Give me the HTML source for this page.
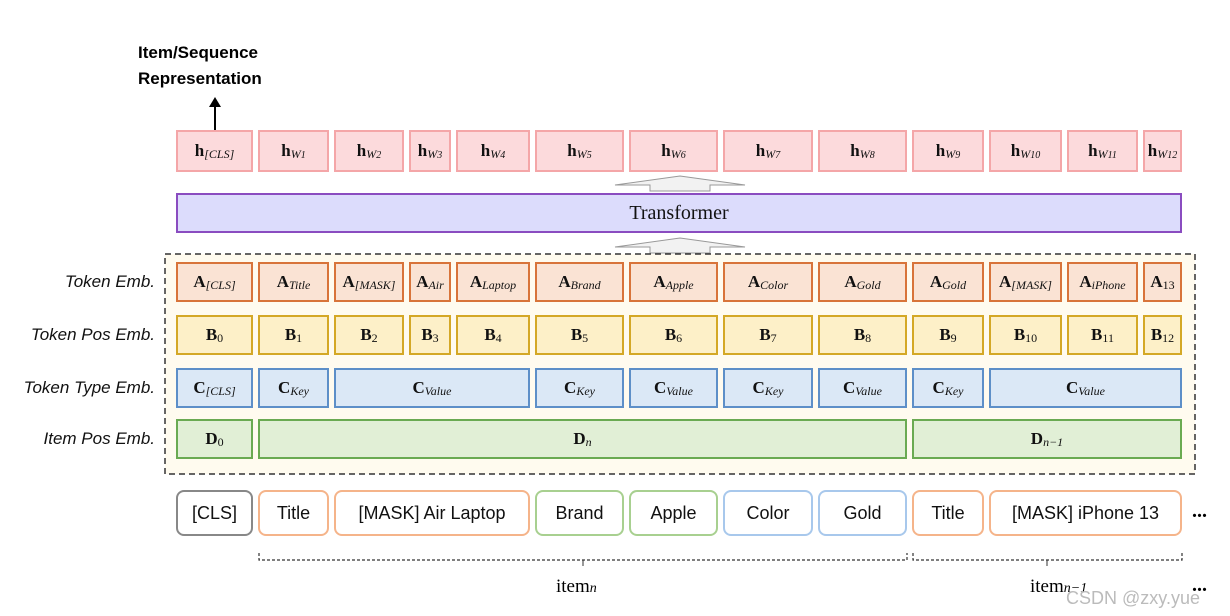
<!DOCTYPE html><html><head><style>
body{margin:0;width:1230px;height:616px;background:#fff;position:relative;overflow:hidden;font-family:"Liberation Serif",serif}
.b{position:absolute;box-sizing:border-box;display:flex;align-items:center;justify-content:center;font-size:17px;color:#111;white-space:nowrap}
.b b{font-weight:bold}
.b sub{font-style:italic;font-size:12px;position:relative;top:3px;vertical-align:baseline}
.h{background:#fcdadc;border:2px solid #f4a6a8;top:130px;height:42px}
.A{background:#fae3d4;border:2px solid #d8743a;top:262px;height:40px}
.B{background:#fdf0c8;border:2px solid #d4a826;top:315px;height:40px}
.C{background:#dbe8f6;border:2px solid #5d8fc8;top:368px;height:40px}
.D{background:#e1efd6;border:2px solid #6aaa52;top:419px;height:40px}
.i{top:490px;height:46px;border-radius:8px;background:#fff;border:2px solid;font-family:"Liberation Sans",sans-serif;font-size:18px}
.lab{position:absolute;left:0;width:155px;text-align:right;font-family:"Liberation Sans",sans-serif;font-style:italic;font-size:17px;color:#111}
</style></head><body>
<div style="position:absolute;left:138px;top:40px;font-family:'Liberation Sans',sans-serif;font-weight:bold;font-size:17px;line-height:26px">Item/Sequence<br>Representation</div>
<div style="position:absolute;left:214px;top:104px;width:2px;height:26px;background:#000"></div>
<div style="position:absolute;left:209px;top:97px;border-left:6px solid transparent;border-right:6px solid transparent;border-bottom:10px solid #000"></div>

<div class="b h" style="left:176px;width:77px"><b>h</b><sub>[CLS]</sub></div>
<div class="b h" style="left:258px;width:71px"><b>h</b><sub>W<small>1</small></sub></div>
<div class="b h" style="left:334px;width:70px"><b>h</b><sub>W<small>2</small></sub></div>
<div class="b h" style="left:409px;width:42px"><b>h</b><sub>W<small>3</small></sub></div>
<div class="b h" style="left:456px;width:74px"><b>h</b><sub>W<small>4</small></sub></div>
<div class="b h" style="left:535px;width:89px"><b>h</b><sub>W<small>5</small></sub></div>
<div class="b h" style="left:629px;width:89px"><b>h</b><sub>W<small>6</small></sub></div>
<div class="b h" style="left:723px;width:90px"><b>h</b><sub>W<small>7</small></sub></div>
<div class="b h" style="left:818px;width:89px"><b>h</b><sub>W<small>8</small></sub></div>
<div class="b h" style="left:912px;width:72px"><b>h</b><sub>W<small>9</small></sub></div>
<div class="b h" style="left:989px;width:73px"><b>h</b><sub>W<small>10</small></sub></div>
<div class="b h" style="left:1067px;width:71px"><b>h</b><sub>W<small>11</small></sub></div>
<div class="b h" style="left:1143px;width:39px"><b>h</b><sub>W<small>12</small></sub></div>

<svg style="position:absolute;left:0;top:0" width="1230" height="616">
<polygon points="650,191 650,185 615,185 680,176 745,185 710,185 710,191" fill="#f2f2f2" stroke="#999"/>
<polygon points="650,253 650,247 615,247 680,238 745,247 710,247 710,253" fill="#f2f2f2" stroke="#999"/>
<rect x="165" y="254" width="1030" height="220" fill="#fffbef" stroke="#333" stroke-width="1.5" stroke-dasharray="6,4"/>
<g stroke="#333" stroke-width="1.2" stroke-dasharray="3,2" fill="none">
<path d="M259,553 V560 H907 V553"/><path d="M913,553 V560 H1182 V553"/></g>
<path d="M583,560 v6 M1047,560 v6" stroke="#333"/>
</svg>
<div class="b" style="left:176px;top:193px;width:1006px;height:40px;background:#dcdcfc;border:2px solid #8a4cc0;font-size:20px">Transformer</div>

<div class="lab" style="top:272px">Token Emb.</div>
<div class="lab" style="top:325px">Token Pos Emb.</div>
<div class="lab" style="top:378px">Token Type Emb.</div>
<div class="lab" style="top:429px">Item Pos Emb.</div>

<div class="b A" style="left:176px;width:77px"><b>A</b><sub>[CLS]</sub></div>
<div class="b A" style="left:258px;width:71px"><b>A</b><sub>Title</sub></div>
<div class="b A" style="left:334px;width:70px"><b>A</b><sub>[MASK]</sub></div>
<div class="b A" style="left:409px;width:42px"><b>A</b><sub>Air</sub></div>
<div class="b A" style="left:456px;width:74px"><b>A</b><sub>Laptop</sub></div>
<div class="b A" style="left:535px;width:89px"><b>A</b><sub>Brand</sub></div>
<div class="b A" style="left:629px;width:89px"><b>A</b><sub>Apple</sub></div>
<div class="b A" style="left:723px;width:90px"><b>A</b><sub>Color</sub></div>
<div class="b A" style="left:818px;width:89px"><b>A</b><sub>Gold</sub></div>
<div class="b A" style="left:912px;width:72px"><b>A</b><sub>Gold</sub></div>
<div class="b A" style="left:989px;width:73px"><b>A</b><sub>[MASK]</sub></div>
<div class="b A" style="left:1067px;width:71px"><b>A</b><sub>iPhone</sub></div>
<div class="b A" style="left:1143px;width:39px"><b>A</b><sub style="font-style:normal">13</sub></div>

<div class="b B" style="left:176px;width:77px"><b>B</b><sub style="font-style:normal">0</sub></div>
<div class="b B" style="left:258px;width:71px"><b>B</b><sub style="font-style:normal">1</sub></div>
<div class="b B" style="left:334px;width:70px"><b>B</b><sub style="font-style:normal">2</sub></div>
<div class="b B" style="left:409px;width:42px"><b>B</b><sub style="font-style:normal">3</sub></div>
<div class="b B" style="left:456px;width:74px"><b>B</b><sub style="font-style:normal">4</sub></div>
<div class="b B" style="left:535px;width:89px"><b>B</b><sub style="font-style:normal">5</sub></div>
<div class="b B" style="left:629px;width:89px"><b>B</b><sub style="font-style:normal">6</sub></div>
<div class="b B" style="left:723px;width:90px"><b>B</b><sub style="font-style:normal">7</sub></div>
<div class="b B" style="left:818px;width:89px"><b>B</b><sub style="font-style:normal">8</sub></div>
<div class="b B" style="left:912px;width:72px"><b>B</b><sub style="font-style:normal">9</sub></div>
<div class="b B" style="left:989px;width:73px"><b>B</b><sub style="font-style:normal">10</sub></div>
<div class="b B" style="left:1067px;width:71px"><b>B</b><sub style="font-style:normal">11</sub></div>
<div class="b B" style="left:1143px;width:39px"><b>B</b><sub style="font-style:normal">12</sub></div>

<div class="b C" style="left:176px;width:77px"><b>C</b><sub>[CLS]</sub></div>
<div class="b C" style="left:258px;width:71px"><b>C</b><sub>Key</sub></div>
<div class="b C" style="left:334px;width:196px"><b>C</b><sub>Value</sub></div>
<div class="b C" style="left:535px;width:89px"><b>C</b><sub>Key</sub></div>
<div class="b C" style="left:629px;width:89px"><b>C</b><sub>Value</sub></div>
<div class="b C" style="left:723px;width:90px"><b>C</b><sub>Key</sub></div>
<div class="b C" style="left:818px;width:89px"><b>C</b><sub>Value</sub></div>
<div class="b C" style="left:912px;width:72px"><b>C</b><sub>Key</sub></div>
<div class="b C" style="left:989px;width:193px"><b>C</b><sub>Value</sub></div>

<div class="b D" style="left:176px;width:77px"><b>D</b><sub style="font-style:normal">0</sub></div>
<div class="b D" style="left:258px;width:649px"><b>D</b><sub>n</sub></div>
<div class="b D" style="left:912px;width:270px"><b>D</b><sub>n−1</sub></div>

<div class="b i" style="left:176px;width:77px;border-color:#888">[CLS]</div>
<div class="b i" style="left:258px;width:71px;border-color:#f5b48a">Title</div>
<div class="b i" style="left:334px;width:196px;border-color:#f5b48a">[MASK] Air Laptop</div>
<div class="b i" style="left:535px;width:89px;border-color:#a8d090">Brand</div>
<div class="b i" style="left:629px;width:89px;border-color:#a8d090">Apple</div>
<div class="b i" style="left:723px;width:90px;border-color:#a8c8ec">Color</div>
<div class="b i" style="left:818px;width:89px;border-color:#a8c8ec">Gold</div>
<div class="b i" style="left:912px;width:72px;border-color:#f5b48a">Title</div>
<div class="b i" style="left:989px;width:193px;border-color:#f5b48a">[MASK] iPhone 13</div>
<div style="position:absolute;left:1192px;top:500px;font-size:20px;font-weight:bold">...</div>

<div style="position:absolute;left:556px;top:576px;font-size:19px">item<i style="font-size:14px">n</i></div>
<div style="position:absolute;left:1030px;top:576px;font-size:19px">item<i style="font-size:14px">n−1</i></div>
<div style="position:absolute;left:1192px;top:574px;font-size:20px;font-weight:bold">...</div>
<div style="position:absolute;left:1066px;top:588px;font-family:'Liberation Sans',sans-serif;font-size:18px;color:#bbb">CSDN @zxy.yue</div>
</body></html>
